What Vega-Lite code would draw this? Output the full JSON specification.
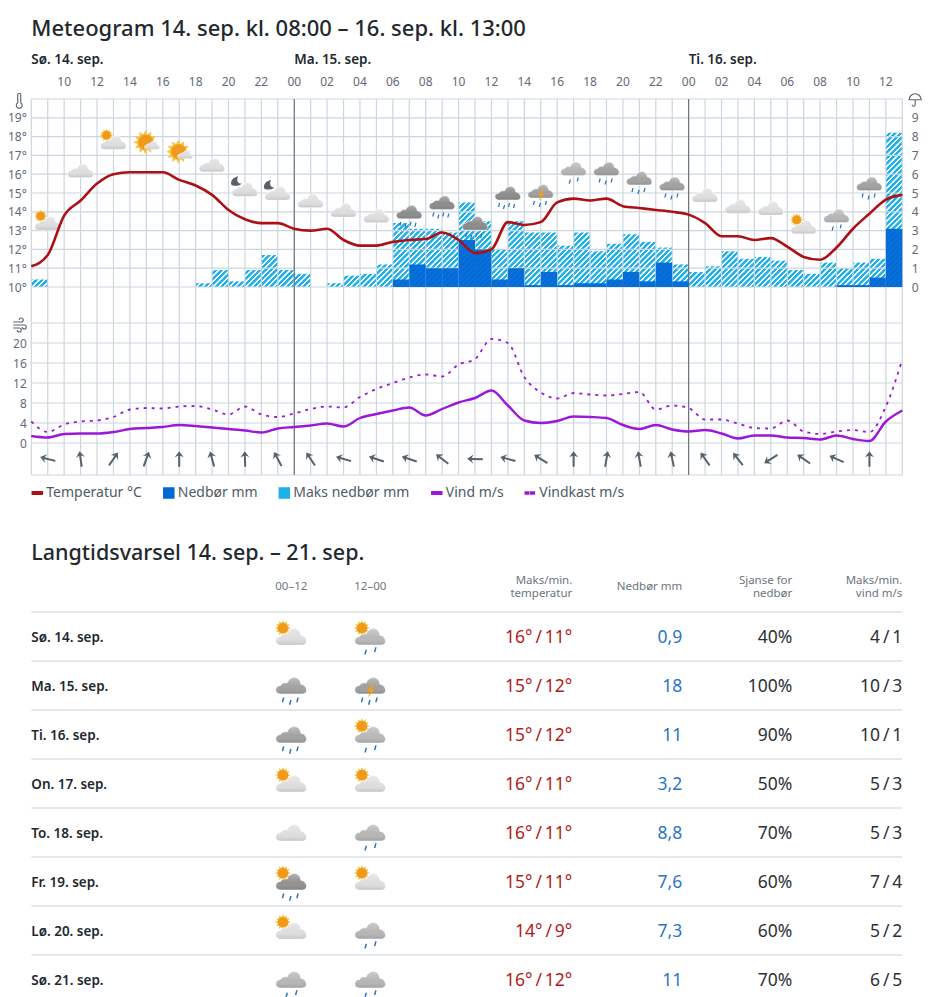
{"$schema":"https://vega.github.io/schema/vega-lite/v6.json","background":"white","padding":{"left":7.3,"top":17,"right":10,"bottom":0},"bounds":"flush","spacing":88,"config":{"font":"Noto Sans","view":{"stroke":null},"axis":{"labelFont":"Noto Sans"}},
"datasets":{
"timer":[
{"t":"2025-09-14T08:00Z","t2":"2025-09-14T09:00Z","maks":0.4,"nedbor":0},{"t":"2025-09-14T09:00Z","t2":"2025-09-14T10:00Z","maks":0,"nedbor":0},{"t":"2025-09-14T10:00Z","t2":"2025-09-14T11:00Z","maks":0,"nedbor":0},{"t":"2025-09-14T11:00Z","t2":"2025-09-14T12:00Z","maks":0,"nedbor":0},{"t":"2025-09-14T12:00Z","t2":"2025-09-14T13:00Z","maks":0,"nedbor":0},{"t":"2025-09-14T13:00Z","t2":"2025-09-14T14:00Z","maks":0,"nedbor":0},{"t":"2025-09-14T14:00Z","t2":"2025-09-14T15:00Z","maks":0,"nedbor":0},{"t":"2025-09-14T15:00Z","t2":"2025-09-14T16:00Z","maks":0,"nedbor":0},{"t":"2025-09-14T16:00Z","t2":"2025-09-14T17:00Z","maks":0,"nedbor":0},{"t":"2025-09-14T17:00Z","t2":"2025-09-14T18:00Z","maks":0,"nedbor":0},
{"t":"2025-09-14T18:00Z","t2":"2025-09-14T19:00Z","maks":0.2,"nedbor":0},{"t":"2025-09-14T19:00Z","t2":"2025-09-14T20:00Z","maks":0.9,"nedbor":0},{"t":"2025-09-14T20:00Z","t2":"2025-09-14T21:00Z","maks":0.3,"nedbor":0},{"t":"2025-09-14T21:00Z","t2":"2025-09-14T22:00Z","maks":0.9,"nedbor":0},{"t":"2025-09-14T22:00Z","t2":"2025-09-14T23:00Z","maks":1.7,"nedbor":0},{"t":"2025-09-14T23:00Z","t2":"2025-09-15T00:00Z","maks":0.9,"nedbor":0},
{"t":"2025-09-15T00:00Z","t2":"2025-09-15T01:00Z","maks":0.7,"nedbor":0},{"t":"2025-09-15T01:00Z","t2":"2025-09-15T02:00Z","maks":0,"nedbor":0},{"t":"2025-09-15T02:00Z","t2":"2025-09-15T03:00Z","maks":0.2,"nedbor":0},{"t":"2025-09-15T03:00Z","t2":"2025-09-15T04:00Z","maks":0.6,"nedbor":0},{"t":"2025-09-15T04:00Z","t2":"2025-09-15T05:00Z","maks":0.7,"nedbor":0},{"t":"2025-09-15T05:00Z","t2":"2025-09-15T06:00Z","maks":1.2,"nedbor":0},{"t":"2025-09-15T06:00Z","t2":"2025-09-15T07:00Z","maks":3.4,"nedbor":0.4},{"t":"2025-09-15T07:00Z","t2":"2025-09-15T08:00Z","maks":3.1,"nedbor":1.2},{"t":"2025-09-15T08:00Z","t2":"2025-09-15T09:00Z","maks":3.1,"nedbor":1.0},{"t":"2025-09-15T09:00Z","t2":"2025-09-15T10:00Z","maks":2.9,"nedbor":1.0},{"t":"2025-09-15T10:00Z","t2":"2025-09-15T11:00Z","maks":4.5,"nedbor":2.5},{"t":"2025-09-15T11:00Z","t2":"2025-09-15T12:00Z","maks":3.5,"nedbor":2.0},
{"t":"2025-09-15T12:00Z","t2":"2025-09-15T13:00Z","maks":2.0,"nedbor":0.4},{"t":"2025-09-15T13:00Z","t2":"2025-09-15T14:00Z","maks":3.5,"nedbor":1.0},{"t":"2025-09-15T14:00Z","t2":"2025-09-15T15:00Z","maks":2.9,"nedbor":0.1},{"t":"2025-09-15T15:00Z","t2":"2025-09-15T16:00Z","maks":2.9,"nedbor":0.8},{"t":"2025-09-15T16:00Z","t2":"2025-09-15T17:00Z","maks":2.2,"nedbor":0.1},{"t":"2025-09-15T17:00Z","t2":"2025-09-15T18:00Z","maks":2.9,"nedbor":0.2},{"t":"2025-09-15T18:00Z","t2":"2025-09-15T19:00Z","maks":1.9,"nedbor":0.2},{"t":"2025-09-15T19:00Z","t2":"2025-09-15T20:00Z","maks":2.3,"nedbor":0.4},{"t":"2025-09-15T20:00Z","t2":"2025-09-15T21:00Z","maks":2.8,"nedbor":0.8},{"t":"2025-09-15T21:00Z","t2":"2025-09-15T22:00Z","maks":2.4,"nedbor":0.3},{"t":"2025-09-15T22:00Z","t2":"2025-09-15T23:00Z","maks":2.1,"nedbor":1.3},{"t":"2025-09-15T23:00Z","t2":"2025-09-16T00:00Z","maks":1.2,"nedbor":0.3},
{"t":"2025-09-16T00:00Z","t2":"2025-09-16T01:00Z","maks":0.8,"nedbor":0},{"t":"2025-09-16T01:00Z","t2":"2025-09-16T02:00Z","maks":1.1,"nedbor":0},{"t":"2025-09-16T02:00Z","t2":"2025-09-16T03:00Z","maks":1.9,"nedbor":0},{"t":"2025-09-16T03:00Z","t2":"2025-09-16T04:00Z","maks":1.5,"nedbor":0},{"t":"2025-09-16T04:00Z","t2":"2025-09-16T05:00Z","maks":1.6,"nedbor":0},{"t":"2025-09-16T05:00Z","t2":"2025-09-16T06:00Z","maks":1.4,"nedbor":0},{"t":"2025-09-16T06:00Z","t2":"2025-09-16T07:00Z","maks":0.9,"nedbor":0},{"t":"2025-09-16T07:00Z","t2":"2025-09-16T08:00Z","maks":0.7,"nedbor":0},{"t":"2025-09-16T08:00Z","t2":"2025-09-16T09:00Z","maks":1.3,"nedbor":0},{"t":"2025-09-16T09:00Z","t2":"2025-09-16T10:00Z","maks":1.0,"nedbor":0.1},{"t":"2025-09-16T10:00Z","t2":"2025-09-16T11:00Z","maks":1.3,"nedbor":0.1},{"t":"2025-09-16T11:00Z","t2":"2025-09-16T12:00Z","maks":1.5,"nedbor":0.5},{"t":"2025-09-16T12:00Z","t2":"2025-09-16T13:00Z","maks":8.2,"nedbor":3.1}],
"kurver":[
{"t":"2025-09-14T08:00Z","temp":11.1,"vind":1.4,"kast":4.3},{"t":"2025-09-14T09:00Z","temp":11.7,"vind":1.1,"kast":2.2},{"t":"2025-09-14T10:00Z","temp":13.8,"vind":1.8,"kast":3.7},{"t":"2025-09-14T11:00Z","temp":14.6,"vind":1.9,"kast":4.3},{"t":"2025-09-14T12:00Z","temp":15.5,"vind":1.9,"kast":4.5},{"t":"2025-09-14T13:00Z","temp":16.0,"vind":2.2,"kast":5.2},{"t":"2025-09-14T14:00Z","temp":16.1,"vind":2.8,"kast":6.7},{"t":"2025-09-14T15:00Z","temp":16.1,"vind":3.0,"kast":7.0},{"t":"2025-09-14T16:00Z","temp":16.1,"vind":3.2,"kast":6.9},{"t":"2025-09-14T17:00Z","temp":15.7,"vind":3.6,"kast":7.3},{"t":"2025-09-14T18:00Z","temp":15.4,"vind":3.4,"kast":7.4},{"t":"2025-09-14T19:00Z","temp":14.9,"vind":3.1,"kast":6.7},{"t":"2025-09-14T20:00Z","temp":14.1,"vind":2.8,"kast":5.7},{"t":"2025-09-14T21:00Z","temp":13.6,"vind":2.5,"kast":7.3},{"t":"2025-09-14T22:00Z","temp":13.4,"vind":2.1,"kast":5.7},{"t":"2025-09-14T23:00Z","temp":13.4,"vind":2.9,"kast":5.2},
{"t":"2025-09-15T00:00Z","temp":13.1,"vind":3.2,"kast":5.9},{"t":"2025-09-15T01:00Z","temp":13.0,"vind":3.5,"kast":6.8},{"t":"2025-09-15T02:00Z","temp":13.1,"vind":3.9,"kast":7.3},{"t":"2025-09-15T03:00Z","temp":12.5,"vind":3.3,"kast":7.1},{"t":"2025-09-15T04:00Z","temp":12.2,"vind":5.0,"kast":9.2},{"t":"2025-09-15T05:00Z","temp":12.2,"vind":5.8,"kast":10.8},{"t":"2025-09-15T06:00Z","temp":12.4,"vind":6.5,"kast":12.0},{"t":"2025-09-15T07:00Z","temp":12.5,"vind":7.1,"kast":13.1},{"t":"2025-09-15T08:00Z","temp":12.55,"vind":5.5,"kast":13.7},{"t":"2025-09-15T09:00Z","temp":12.9,"vind":6.8,"kast":13.3},{"t":"2025-09-15T10:00Z","temp":12.5,"vind":8.1,"kast":15.7},{"t":"2025-09-15T11:00Z","temp":11.8,"vind":9.0,"kast":16.8},{"t":"2025-09-15T12:00Z","temp":12.0,"vind":10.5,"kast":20.8},{"t":"2025-09-15T13:00Z","temp":13.45,"vind":7.5,"kast":20.0},{"t":"2025-09-15T14:00Z","temp":13.3,"vind":4.5,"kast":13.2},{"t":"2025-09-15T15:00Z","temp":13.45,"vind":4.0,"kast":10.1},{"t":"2025-09-15T16:00Z","temp":14.5,"vind":4.4,"kast":8.9},{"t":"2025-09-15T17:00Z","temp":14.7,"vind":5.3,"kast":10.0},{"t":"2025-09-15T18:00Z","temp":14.6,"vind":5.2,"kast":9.7},{"t":"2025-09-15T19:00Z","temp":14.7,"vind":5.0,"kast":9.5},{"t":"2025-09-15T20:00Z","temp":14.3,"vind":3.6,"kast":9.8},{"t":"2025-09-15T21:00Z","temp":14.2,"vind":2.8,"kast":10.2},{"t":"2025-09-15T22:00Z","temp":14.1,"vind":3.6,"kast":6.7},{"t":"2025-09-15T23:00Z","temp":14.0,"vind":2.7,"kast":7.5},
{"t":"2025-09-16T00:00Z","temp":13.85,"vind":2.3,"kast":7.0},{"t":"2025-09-16T01:00Z","temp":13.4,"vind":2.6,"kast":4.7},{"t":"2025-09-16T02:00Z","temp":12.7,"vind":1.9,"kast":4.7},{"t":"2025-09-16T03:00Z","temp":12.7,"vind":0.9,"kast":3.9},{"t":"2025-09-16T04:00Z","temp":12.5,"vind":1.5,"kast":3.0},{"t":"2025-09-16T05:00Z","temp":12.6,"vind":1.5,"kast":2.9},{"t":"2025-09-16T06:00Z","temp":12.15,"vind":1.1,"kast":4.5},{"t":"2025-09-16T07:00Z","temp":11.6,"vind":1.0,"kast":2.3},{"t":"2025-09-16T08:00Z","temp":11.45,"vind":0.7,"kast":1.8},{"t":"2025-09-16T09:00Z","temp":12.1,"vind":1.5,"kast":2.3},{"t":"2025-09-16T10:00Z","temp":13.1,"vind":0.8,"kast":2.6},{"t":"2025-09-16T11:00Z","temp":13.9,"vind":0.4,"kast":2.2},{"t":"2025-09-16T12:00Z","temp":14.65,"vind":4.3,"kast":7.3},{"t":"2025-09-16T13:00Z","temp":14.9,"vind":6.5,"kast":16.7}],
"ikoner":[
{"t":"2025-09-14T09:00Z","niva":13.4,"vaer":"delvis"},{"t":"2025-09-14T11:00Z","niva":16.2,"vaer":"sky"},{"t":"2025-09-14T13:00Z","niva":17.7,"vaer":"delvis"},{"t":"2025-09-14T15:00Z","niva":17.7,"vaer":"sol"},{"t":"2025-09-14T17:00Z","niva":17.2,"vaer":"sol"},{"t":"2025-09-14T19:00Z","niva":16.5,"vaer":"sky"},{"t":"2025-09-14T21:00Z","niva":15.2,"vaer":"natt"},{"t":"2025-09-14T23:00Z","niva":15.0,"vaer":"natt"},
{"t":"2025-09-15T01:00Z","niva":14.6,"vaer":"sky"},{"t":"2025-09-15T03:00Z","niva":14.1,"vaer":"sky"},{"t":"2025-09-15T05:00Z","niva":13.8,"vaer":"sky"},{"t":"2025-09-15T07:00Z","niva":14.0,"vaer":"regn4"},{"t":"2025-09-15T09:00Z","niva":14.5,"vaer":"regn4"},{"t":"2025-09-15T11:00Z","niva":13.4,"vaer":"regn4"},{"t":"2025-09-15T13:00Z","niva":15.0,"vaer":"regn4"},{"t":"2025-09-15T15:00Z","niva":15.1,"vaer":"torden"},{"t":"2025-09-15T17:00Z","niva":16.3,"vaer":"regn2"},{"t":"2025-09-15T19:00Z","niva":16.3,"vaer":"regn3"},{"t":"2025-09-15T21:00Z","niva":15.8,"vaer":"regn3"},{"t":"2025-09-15T23:00Z","niva":15.5,"vaer":"regn3"},
{"t":"2025-09-16T01:00Z","niva":14.9,"vaer":"sky"},{"t":"2025-09-16T03:00Z","niva":14.3,"vaer":"sky"},{"t":"2025-09-16T05:00Z","niva":14.2,"vaer":"sky"},{"t":"2025-09-16T07:00Z","niva":13.2,"vaer":"delvis"},{"t":"2025-09-16T09:00Z","niva":13.8,"vaer":"regn2"},{"t":"2025-09-16T11:00Z","niva":15.5,"vaer":"regn3"}],
"piler":[
{"t":"2025-09-14T09:00Z","retning":284},{"t":"2025-09-14T11:00Z","retning":352},{"t":"2025-09-14T13:00Z","retning":35},{"t":"2025-09-14T15:00Z","retning":20},{"t":"2025-09-14T17:00Z","retning":0},{"t":"2025-09-14T19:00Z","retning":345},{"t":"2025-09-14T21:00Z","retning":358},{"t":"2025-09-14T23:00Z","retning":332},{"t":"2025-09-15T01:00Z","retning":327},{"t":"2025-09-15T03:00Z","retning":286},{"t":"2025-09-15T05:00Z","retning":288},{"t":"2025-09-15T07:00Z","retning":288},{"t":"2025-09-15T09:00Z","retning":308},{"t":"2025-09-15T11:00Z","retning":272},{"t":"2025-09-15T13:00Z","retning":285},{"t":"2025-09-15T15:00Z","retning":302},{"t":"2025-09-15T17:00Z","retning":0},{"t":"2025-09-15T19:00Z","retning":10},{"t":"2025-09-15T21:00Z","retning":350},{"t":"2025-09-15T23:00Z","retning":348},{"t":"2025-09-16T01:00Z","retning":325},{"t":"2025-09-16T03:00Z","retning":322},{"t":"2025-09-16T05:00Z","retning":238},{"t":"2025-09-16T07:00Z","retning":305},{"t":"2025-09-16T09:00Z","retning":294},{"t":"2025-09-16T11:00Z","retning":0}],
"klokke":[
{"t":"2025-09-14T10:00Z","time":"10"},{"t":"2025-09-14T12:00Z","time":"12"},{"t":"2025-09-14T14:00Z","time":"14"},{"t":"2025-09-14T16:00Z","time":"16"},{"t":"2025-09-14T18:00Z","time":"18"},{"t":"2025-09-14T20:00Z","time":"20"},{"t":"2025-09-14T22:00Z","time":"22"},{"t":"2025-09-15T00:00Z","time":"00"},{"t":"2025-09-15T02:00Z","time":"02"},{"t":"2025-09-15T04:00Z","time":"04"},{"t":"2025-09-15T06:00Z","time":"06"},{"t":"2025-09-15T08:00Z","time":"08"},{"t":"2025-09-15T10:00Z","time":"10"},{"t":"2025-09-15T12:00Z","time":"12"},{"t":"2025-09-15T14:00Z","time":"14"},{"t":"2025-09-15T16:00Z","time":"16"},{"t":"2025-09-15T18:00Z","time":"18"},{"t":"2025-09-15T20:00Z","time":"20"},{"t":"2025-09-15T22:00Z","time":"22"},{"t":"2025-09-16T00:00Z","time":"00"},{"t":"2025-09-16T02:00Z","time":"02"},{"t":"2025-09-16T04:00Z","time":"04"},{"t":"2025-09-16T06:00Z","time":"06"},{"t":"2025-09-16T08:00Z","time":"08"},{"t":"2025-09-16T10:00Z","time":"10"},{"t":"2025-09-16T12:00Z","time":"12"}],
"dager":[
{"dag":"Sø. 14. sep.","maksmin":"16°\u2009/\u200911°","nedbor":"0,9","sjanse":"40%","vind":"4\u2009/\u20091"},{"dag":"Ma. 15. sep.","maksmin":"15°\u2009/\u200912°","nedbor":"18","sjanse":"100%","vind":"10\u2009/\u20093"},{"dag":"Ti. 16. sep.","maksmin":"15°\u2009/\u200912°","nedbor":"11","sjanse":"90%","vind":"10\u2009/\u20091"},{"dag":"On. 17. sep.","maksmin":"16°\u2009/\u200911°","nedbor":"3,2","sjanse":"50%","vind":"5\u2009/\u20093"},{"dag":"To. 18. sep.","maksmin":"16°\u2009/\u200911°","nedbor":"8,8","sjanse":"70%","vind":"5\u2009/\u20093"},{"dag":"Fr. 19. sep.","maksmin":"15°\u2009/\u200911°","nedbor":"7,6","sjanse":"60%","vind":"7\u2009/\u20094"},{"dag":"Lø. 20. sep.","maksmin":"14°\u2009/\u20099°","nedbor":"7,3","sjanse":"60%","vind":"5\u2009/\u20092"},{"dag":"Sø. 21. sep.","maksmin":"16°\u2009/\u200912°","nedbor":"11","sjanse":"70%","vind":"6\u2009/\u20095"}],
"dagikoner":[
{"dag":"Sø. 14. sep.","kol":"00–12","vaer":"delvis"},{"dag":"Sø. 14. sep.","kol":"12–00","vaer":"solregn2"},{"dag":"Ma. 15. sep.","kol":"00–12","vaer":"regn3"},{"dag":"Ma. 15. sep.","kol":"12–00","vaer":"torden"},{"dag":"Ti. 16. sep.","kol":"00–12","vaer":"regn3"},{"dag":"Ti. 16. sep.","kol":"12–00","vaer":"solregn2"},{"dag":"On. 17. sep.","kol":"00–12","vaer":"delvis"},{"dag":"On. 17. sep.","kol":"12–00","vaer":"delvis"},{"dag":"To. 18. sep.","kol":"00–12","vaer":"sky"},{"dag":"To. 18. sep.","kol":"12–00","vaer":"regn2"},{"dag":"Fr. 19. sep.","kol":"00–12","vaer":"solregn3"},{"dag":"Fr. 19. sep.","kol":"12–00","vaer":"delvis"},{"dag":"Lø. 20. sep.","kol":"00–12","vaer":"delvis"},{"dag":"Lø. 20. sep.","kol":"12–00","vaer":"regn2"},{"dag":"Sø. 21. sep.","kol":"00–12","vaer":"regn2"},{"dag":"Sø. 21. sep.","kol":"12–00","vaer":"regn2"}]
},
"vconcat":[
{"width":871,"height":376,
"title":{"text":"Meteogram 14. sep. kl. 08:00 – 16. sep. kl. 13:00","anchor":"start","frame":"group","fontSize":22,"fontWeight":500,"font":"Noto Sans","color":"#22282e","offset":12},
"resolve":{"scale":{"y":"independent","shape":"independent"}},
"layer":[
{"data":{"name":"timer"},"mark":{"type":"rect"},"encoding":{"x":{"field":"t","type":"temporal","axis":null,"scale":{"type":"utc","domain":["2025-09-14T08:00Z","2025-09-16T13:00Z"]}},"x2":{"field":"t2"},"y":{"field":"maks","type":"quantitative","scale":{"domain":[-10,10]},"axis":{"orient":"right","values":[0,1,2,3,4,5,6,7,8,9],"title":null,"grid":false,"ticks":false,"domain":false,"labelFontSize":12,"labelColor":"#5f6a75","labelPadding":9,"labelAlign":"left"}},"y2":{"datum":0},"color":{"datum":"Maks nedbør mm","scale":{"domain":["Temperatur °C","Nedbør mm","Maks nedbør mm","Vind m/s","Vindkast m/s"],"range":["#ad1014","#0068d6","#1cb1e8","#9d17d8","#9d17d8"]},"legend":{"title":null,"orient":"none","legendX":-1,"legendY":387,"direction":"horizontal","columns":5,"gridAlign":"none","columnPadding":18.5,"labelFontSize":14,"labelFont":"Noto Sans","labelColor":"#4f5a65","labelOffset":2,"symbolSize":100,"encode":{"symbols":{"update":{"shape":{"signal":"datum.value=='Temperatur °C'?'M-1,-.25H1V.25H-1Z':datum.value=='Vind m/s'?'M-1,-.25H1V.25H-1Z':datum.value=='Vindkast m/s'?'M-1,-.22H-.3V.22H-1ZM.1,-.22H.8V.22H.1Z':datum.value=='Maks nedbør mm'?'M-1,-1H-.5L-1,-.5ZM-.1,-1H.4L-1,.4V-.1ZM.8,-1H1V-.7L-.7,1H-1V.8ZM1,-.3V.2L.2,1H-.3ZM1,.6V1H.6Z':'M-1,-1H1V1H-1Z'"},"fill":{"signal":"datum.value=='Temperatur °C'?'#ad1014':datum.value=='Nedbør mm'?'#0068d6':datum.value=='Maks nedbør mm'?'#1cb1e8':'#9d17d8'"},"stroke":{"value":"transparent"},"opacity":{"value":1}}}}}}}},
{"data":{"name":"timer"},"mark":{"type":"rect","fill":{"gradient":"linear","x1":0,"y1":0,"x2":0.12008,"y2":1.12549,"stops":[
{"offset":0,"color":"#fff0"},{"offset":0.004,"color":"#fff"},{"offset":0.013,"color":"#fff"},{"offset":0.016,"color":"#fff0"},{"offset":0.03125,"color":"#fff0"},{"offset":0.03525,"color":"#fff"},{"offset":0.04425,"color":"#fff"},{"offset":0.04725,"color":"#fff0"},{"offset":0.0625,"color":"#fff0"},{"offset":0.0665,"color":"#fff"},{"offset":0.0755,"color":"#fff"},{"offset":0.0785,"color":"#fff0"},{"offset":0.09375,"color":"#fff0"},{"offset":0.09775,"color":"#fff"},{"offset":0.10675,"color":"#fff"},{"offset":0.10975,"color":"#fff0"},{"offset":0.125,"color":"#fff0"},{"offset":0.129,"color":"#fff"},{"offset":0.138,"color":"#fff"},{"offset":0.141,"color":"#fff0"},{"offset":0.15625,"color":"#fff0"},{"offset":0.16025,"color":"#fff"},{"offset":0.16925,"color":"#fff"},{"offset":0.17225,"color":"#fff0"},{"offset":0.1875,"color":"#fff0"},{"offset":0.1915,"color":"#fff"},{"offset":0.2005,"color":"#fff"},{"offset":0.2035,"color":"#fff0"},{"offset":0.21875,"color":"#fff0"},{"offset":0.22275,"color":"#fff"},{"offset":0.23175,"color":"#fff"},{"offset":0.23475,"color":"#fff0"},{"offset":0.25,"color":"#fff0"},{"offset":0.254,"color":"#fff"},{"offset":0.263,"color":"#fff"},{"offset":0.266,"color":"#fff0"},{"offset":0.28125,"color":"#fff0"},{"offset":0.28525,"color":"#fff"},{"offset":0.29425,"color":"#fff"},{"offset":0.29725,"color":"#fff0"},{"offset":0.3125,"color":"#fff0"},{"offset":0.3165,"color":"#fff"},{"offset":0.3255,"color":"#fff"},{"offset":0.3285,"color":"#fff0"},{"offset":0.34375,"color":"#fff0"},{"offset":0.34775,"color":"#fff"},{"offset":0.35675,"color":"#fff"},{"offset":0.35975,"color":"#fff0"},{"offset":0.375,"color":"#fff0"},{"offset":0.379,"color":"#fff"},{"offset":0.388,"color":"#fff"},{"offset":0.391,"color":"#fff0"},{"offset":0.40625,"color":"#fff0"},{"offset":0.41025,"color":"#fff"},{"offset":0.41925,"color":"#fff"},{"offset":0.42225,"color":"#fff0"},{"offset":0.4375,"color":"#fff0"},{"offset":0.4415,"color":"#fff"},{"offset":0.4505,"color":"#fff"},{"offset":0.4535,"color":"#fff0"},{"offset":0.46875,"color":"#fff0"},{"offset":0.47275,"color":"#fff"},{"offset":0.48175,"color":"#fff"},{"offset":0.48475,"color":"#fff0"},{"offset":0.5,"color":"#fff0"},{"offset":0.504,"color":"#fff"},{"offset":0.513,"color":"#fff"},{"offset":0.516,"color":"#fff0"},{"offset":0.53125,"color":"#fff0"},{"offset":0.53525,"color":"#fff"},{"offset":0.54425,"color":"#fff"},{"offset":0.54725,"color":"#fff0"},{"offset":0.5625,"color":"#fff0"},{"offset":0.5665,"color":"#fff"},{"offset":0.5755,"color":"#fff"},{"offset":0.5785,"color":"#fff0"},{"offset":0.59375,"color":"#fff0"},{"offset":0.59775,"color":"#fff"},{"offset":0.60675,"color":"#fff"},{"offset":0.60975,"color":"#fff0"},{"offset":0.625,"color":"#fff0"},{"offset":0.629,"color":"#fff"},{"offset":0.638,"color":"#fff"},{"offset":0.641,"color":"#fff0"},{"offset":0.65625,"color":"#fff0"},{"offset":0.66025,"color":"#fff"},{"offset":0.66925,"color":"#fff"},{"offset":0.67225,"color":"#fff0"},{"offset":0.6875,"color":"#fff0"},{"offset":0.6915,"color":"#fff"},{"offset":0.7005,"color":"#fff"},{"offset":0.7035,"color":"#fff0"},{"offset":0.71875,"color":"#fff0"},{"offset":0.72275,"color":"#fff"},{"offset":0.73175,"color":"#fff"},{"offset":0.73475,"color":"#fff0"},{"offset":0.75,"color":"#fff0"},{"offset":0.754,"color":"#fff"},{"offset":0.763,"color":"#fff"},{"offset":0.766,"color":"#fff0"},{"offset":0.78125,"color":"#fff0"},{"offset":0.78525,"color":"#fff"},{"offset":0.79425,"color":"#fff"},{"offset":0.79725,"color":"#fff0"},{"offset":0.8125,"color":"#fff0"},{"offset":0.8165,"color":"#fff"},{"offset":0.8255,"color":"#fff"},{"offset":0.8285,"color":"#fff0"},{"offset":0.84375,"color":"#fff0"},{"offset":0.84775,"color":"#fff"},{"offset":0.85675,"color":"#fff"},{"offset":0.85975,"color":"#fff0"},{"offset":0.875,"color":"#fff0"},{"offset":0.879,"color":"#fff"},{"offset":0.888,"color":"#fff"},{"offset":0.891,"color":"#fff0"},{"offset":0.90625,"color":"#fff0"},{"offset":0.91025,"color":"#fff"},{"offset":0.91925,"color":"#fff"},{"offset":0.92225,"color":"#fff0"},{"offset":0.9375,"color":"#fff0"},{"offset":0.9415,"color":"#fff"},{"offset":0.9505,"color":"#fff"},{"offset":0.9535,"color":"#fff0"},{"offset":0.96875,"color":"#fff0"},{"offset":0.97275,"color":"#fff"},{"offset":0.98175,"color":"#fff"},{"offset":0.98475,"color":"#fff0"},{"offset":1,"color":"#fff0"}]}},"encoding":{"x":{"field":"t","type":"temporal","axis":null},"x2":{"field":"t2"},"y":{"datum":8.2,"scale":{"domain":[-10,10]},"axis":null},"y2":{"datum":0}}},
{"data":{"name":"kurver"},"mark":{"type":"rule","color":"#ccd6df","strokeWidth":1.2},"encoding":{"x":{"field":"t","type":"temporal","axis":null}}},
{"data":{"values":[{"verdi":0},{"verdi":10},{"verdi":11},{"verdi":12},{"verdi":13},{"verdi":14},{"verdi":15},{"verdi":16},{"verdi":17},{"verdi":18},{"verdi":19},{"verdi":20}]},"mark":{"type":"rule","color":"#ccd6df","strokeWidth":1.2},"encoding":{"y":{"field":"verdi","type":"quantitative","scale":{"domain":[0,20]},"axis":{"orient":"left","values":[10,11,12,13,14,15,16,17,18,19],"title":null,"grid":false,"ticks":false,"domain":false,"labelFontSize":12,"labelColor":"#5f6a75","labelPadding":5,"labelExpr":"datum.value+'°'"}}}},
{"data":{"values":[{"verdi":0},{"verdi":4},{"verdi":8},{"verdi":12},{"verdi":16},{"verdi":20},{"verdi":24}]},"mark":{"type":"rule","color":"#ccd6df","strokeWidth":1.2},"encoding":{"y":{"field":"verdi","type":"quantitative","scale":{"domain":[-6.4,68.8]},"axis":{"orient":"left","values":[0,4,8,12,16,20],"title":null,"grid":false,"ticks":false,"domain":false,"labelFontSize":12,"labelColor":"#5f6a75","labelPadding":5}}}},
{"data":{"values":[{"t":"2025-09-15T00:00Z"},{"t":"2025-09-16T00:00Z"}]},"mark":{"type":"rule","color":"#59626b","strokeWidth":1},"encoding":{"x":{"field":"t","type":"temporal","axis":null}}},
{"data":{"name":"timer"},"mark":{"type":"rect","opacity":0.95},"encoding":{"x":{"field":"t","type":"temporal","axis":null},"x2":{"field":"t2"},"y":{"field":"nedbor","type":"quantitative","scale":{"domain":[-10,10]},"axis":null},"y2":{"datum":0},"color":{"datum":"Nedbør mm"}}},
{"data":{"name":"klokke"},"mark":{"type":"text","align":"center","baseline":"middle","fontSize":12,"color":"#5f6a75"},"encoding":{"x":{"field":"t","type":"temporal","axis":null},"y":{"datum":20.88,"scale":{"domain":[0,20]},"axis":null},"text":{"field":"time"}}},
{"data":{"name":"ikoner"},"mark":{"type":"point","filled":true,"size":4,"opacity":1,"strokeWidth":0,"fill":"#f6c343"},"encoding":{"x":{"field":"t","type":"temporal","axis":null},"y":{"field":"niva","type":"quantitative","scale":{"domain":[0,20]},"axis":null},"shape":{"field":"vaer","legend":null,"scale":{"domain":["delvis","sol","sky","natt","regn2","regn3","regn4","torden","solregn2","solregn3"],"range":["M-.4,-7l-2.4,1.2 1.5,2.1 -2.6,-.2 .2,2.6 -2.1,-1.5 -1.2,2.4 -1.2,-2.4 -2.1,1.5 .2,-2.6 -2.6,.2 1.5,-2.1 -2.4,-1.2 2.4,-1.2 -1.5,-2.1 2.6,.2 -.2,-2.6 2.1,1.5 1.2,-2.4 1.2,2.4 2.1,-1.5 -.2,2.6 2.6,-.2 -1.5,2.1z","M11,0l-4.3,2.1 2.7,3.9 -4.7,-.3 .3,4.7 -3.9,-2.7 -2.1,4.3 -2.1,-4.3 -3.9,2.7 .3,-4.7 -4.7,.3 2.7,-3.9 -4.3,-2.1 4.3,-2.1 -2.7,-3.9 4.7,.3 -.3,-4.7 3.9,2.7 2.1,-4.3 2.1,4.3 3.9,-2.7 -.3,4.7 4.7,-.3 -2.7,3.9z","M0,0","M0,0","M0,0","M0,0","M0,0","M0,0","M-.4,-7l-2.4,1.2 1.5,2.1 -2.6,-.2 .2,2.6 -2.1,-1.5 -1.2,2.4 -1.2,-2.4 -2.1,1.5 .2,-2.6 -2.6,.2 1.5,-2.1 -2.4,-1.2 2.4,-1.2 -1.5,-2.1 2.6,.2 -.2,-2.6 2.1,1.5 1.2,-2.4 1.2,2.4 2.1,-1.5 -.2,2.6 2.6,-.2 -1.5,2.1z","M-.4,-7l-2.4,1.2 1.5,2.1 -2.6,-.2 .2,2.6 -2.1,-1.5 -1.2,2.4 -1.2,-2.4 -2.1,1.5 .2,-2.6 -2.6,.2 1.5,-2.1 -2.4,-1.2 2.4,-1.2 -1.5,-2.1 2.6,.2 -.2,-2.6 2.1,1.5 1.2,-2.4 1.2,2.4 2.1,-1.5 -.2,2.6 2.6,-.2 -1.5,2.1z"]}}}},
{"data":{"name":"ikoner"},"mark":{"type":"point","filled":true,"size":4,"opacity":1,"strokeWidth":0,"fill":"#ef9a1c"},"encoding":{"x":{"field":"t","type":"temporal","axis":null},"y":{"field":"niva","type":"quantitative","scale":{"domain":[0,20]},"axis":null},"shape":{"field":"vaer","legend":null,"scale":{"domain":["delvis","sol","sky","natt","regn2","regn3","regn4","torden","solregn2","solregn3"],"range":["M-11.3,-7a4.3,4.3 0 1,0 8.6,0a4.3,4.3 0 1,0 -8.6,0z","M-8,0a7.5,7.5 0 1,0 15,0a7.5,7.5 0 1,0 -15,0z","M0,0","M0,0","M0,0","M0,0","M0,0","M0,0","M-11.3,-7a4.3,4.3 0 1,0 8.6,0a4.3,4.3 0 1,0 -8.6,0z","M-11.3,-7a4.3,4.3 0 1,0 8.6,0a4.3,4.3 0 1,0 -8.6,0z"]}}}},
{"data":{"name":"ikoner"},"mark":{"type":"point","filled":true,"size":4,"opacity":1,"strokeWidth":0,"fill":"#5a6068"},"encoding":{"x":{"field":"t","type":"temporal","axis":null},"y":{"field":"niva","type":"quantitative","scale":{"domain":[0,20]},"axis":null},"shape":{"field":"vaer","legend":null,"scale":{"domain":["delvis","sol","sky","natt","regn2","regn3","regn4","torden","solregn2","solregn3"],"range":["M0,0","M0,0","M0,0","M-6.7,-13C-14,-12 -15,-5 -13,-4C-10,-3 -5,-3 -3.3,-5.7C-7,-5 -9,-9 -6.7,-13z","M0,0","M0,0","M0,0","M0,0","M0,0","M0,0"]}}}},
{"data":{"name":"ikoner"},"mark":{"type":"point","filled":true,"size":4,"opacity":1,"strokeWidth":0.6,"stroke":"#fff"},"encoding":{"x":{"field":"t","type":"temporal","axis":null},"y":{"field":"niva","type":"quantitative","scale":{"domain":[0,20]},"axis":null},"fill":{"field":"vaer","legend":null,"scale":{"domain":["delvis","sol","sky","natt","regn2","regn3","regn4","torden","solregn2","solregn3"],"range":["#dedede","#dedede","#dedede","#dedede","#b6b6b6","#a2a2a2","#8c8c8c","#a0a0a0","#b8b8b8","#929292"]}},"shape":{"field":"vaer","legend":null,"scale":{"domain":["delvis","sol","sky","natt","regn2","regn3","regn4","torden","solregn2","solregn3"],"range":["M-9,7c-5,0 -5.5,-6.5 0,-7c1.5,-2.5 4,-2.5 5.5,-2c2,-6 10.5,-6.5 11.5,1c5,.5 7,8 1,8z","M.6,6.9c-3,0 -3.3,-3.9 0,-4.2c.9,-1.5 2.4,-1.5 3.3,-1.2c1.2,-3.6 6.3,-3.9 6.9,.6c3,.3 4.2,4.8 .6,4.8z","M-9,7c-5,0 -5.5,-6.5 0,-7c1.5,-2.5 4,-2.5 5.5,-2c2,-6 10.5,-6.5 11.5,1c5,.5 7,8 1,8z","M-9,7c-5,0 -5.5,-6.5 0,-7c1.5,-2.5 4,-2.5 5.5,-2c2,-6 10.5,-6.5 11.5,1c5,.5 7,8 1,8z","M-9,7c-5,0 -5.5,-6.5 0,-7c1.5,-2.5 4,-2.5 5.5,-2c2,-6 10.5,-6.5 11.5,1c5,.5 7,8 1,8z","M-9,7c-5,0 -5.5,-6.5 0,-7c1.5,-2.5 4,-2.5 5.5,-2c2,-6 10.5,-6.5 11.5,1c5,.5 7,8 1,8z","M-9,7c-5,0 -5.5,-6.5 0,-7c1.5,-2.5 4,-2.5 5.5,-2c2,-6 10.5,-6.5 11.5,1c5,.5 7,8 1,8z","M-9,7c-5,0 -5.5,-6.5 0,-7c1.5,-2.5 4,-2.5 5.5,-2c2,-6 10.5,-6.5 11.5,1c5,.5 7,8 1,8z","M-9,7c-5,0 -5.5,-6.5 0,-7c1.5,-2.5 4,-2.5 5.5,-2c2,-6 10.5,-6.5 11.5,1c5,.5 7,8 1,8z","M-9,7c-5,0 -5.5,-6.5 0,-7c1.5,-2.5 4,-2.5 5.5,-2c2,-6 10.5,-6.5 11.5,1c5,.5 7,8 1,8z"]}}}},
{"data":{"name":"ikoner"},"mark":{"type":"point","filled":true,"size":4,"opacity":1,"strokeWidth":0,"fill":{"gradient":"linear","x1":0,"y1":0,"x2":0,"y2":1,"stops":[{"offset":0,"color":"rgba(255,255,255,0.28)"},{"offset":0.55,"color":"rgba(255,255,255,0)"},{"offset":1,"color":"rgba(0,0,0,0.12)"}]}},"encoding":{"x":{"field":"t","type":"temporal","axis":null},"y":{"field":"niva","type":"quantitative","scale":{"domain":[0,20]},"axis":null},"shape":{"field":"vaer","legend":null,"scale":{"domain":["delvis","sol","sky","natt","regn2","regn3","regn4","torden","solregn2","solregn3"],"range":["M-9,7c-5,0 -5.5,-6.5 0,-7c1.5,-2.5 4,-2.5 5.5,-2c2,-6 10.5,-6.5 11.5,1c5,.5 7,8 1,8z","M.6,6.9c-3,0 -3.3,-3.9 0,-4.2c.9,-1.5 2.4,-1.5 3.3,-1.2c1.2,-3.6 6.3,-3.9 6.9,.6c3,.3 4.2,4.8 .6,4.8z","M-9,7c-5,0 -5.5,-6.5 0,-7c1.5,-2.5 4,-2.5 5.5,-2c2,-6 10.5,-6.5 11.5,1c5,.5 7,8 1,8z","M-9,7c-5,0 -5.5,-6.5 0,-7c1.5,-2.5 4,-2.5 5.5,-2c2,-6 10.5,-6.5 11.5,1c5,.5 7,8 1,8z","M-9,7c-5,0 -5.5,-6.5 0,-7c1.5,-2.5 4,-2.5 5.5,-2c2,-6 10.5,-6.5 11.5,1c5,.5 7,8 1,8z","M-9,7c-5,0 -5.5,-6.5 0,-7c1.5,-2.5 4,-2.5 5.5,-2c2,-6 10.5,-6.5 11.5,1c5,.5 7,8 1,8z","M-9,7c-5,0 -5.5,-6.5 0,-7c1.5,-2.5 4,-2.5 5.5,-2c2,-6 10.5,-6.5 11.5,1c5,.5 7,8 1,8z","M-9,7c-5,0 -5.5,-6.5 0,-7c1.5,-2.5 4,-2.5 5.5,-2c2,-6 10.5,-6.5 11.5,1c5,.5 7,8 1,8z","M-9,7c-5,0 -5.5,-6.5 0,-7c1.5,-2.5 4,-2.5 5.5,-2c2,-6 10.5,-6.5 11.5,1c5,.5 7,8 1,8z","M-9,7c-5,0 -5.5,-6.5 0,-7c1.5,-2.5 4,-2.5 5.5,-2c2,-6 10.5,-6.5 11.5,1c5,.5 7,8 1,8z"]}}}},
{"data":{"name":"ikoner"},"mark":{"type":"point","filled":true,"size":4,"opacity":1,"strokeWidth":0,"fill":"#2f75b8"},"encoding":{"x":{"field":"t","type":"temporal","axis":null},"y":{"field":"niva","type":"quantitative","scale":{"domain":[0,20]},"axis":null},"shape":{"field":"vaer","legend":null,"scale":{"domain":["delvis","sol","sky","natt","regn2","regn3","regn4","torden","solregn2","solregn3"],"range":["M0,0","M0,0","M0,0","M0,0","M-5,15l1,-4h1.3l-1,4zM3,13l1,-4h1.3l-1,4z","M-8,14l1,-4h1.3l-1,4zM-2,16l1,-4h1.3l-1,4zM4,14l1,-4h1.3l-1,4z","M-10,14l1,-4h1.3l-1,4zM-5,16l1,-4h1.3l-1,4zM0,14l1,-4h1.3l-1,4zM5,15l1,-4h1.3l-1,4z","M-8,14l1,-4h1.3l-1,4zM-2,16l1,-4h1.3l-1,4zM4,14l1,-4h1.3l-1,4z","M-5,15l1,-4h1.3l-1,4zM3,13l1,-4h1.3l-1,4z","M-8,14l1,-4h1.3l-1,4zM-2,16l1,-4h1.3l-1,4zM4,14l1,-4h1.3l-1,4z"]}}}},
{"data":{"name":"ikoner"},"mark":{"type":"point","filled":true,"size":4,"opacity":1,"strokeWidth":0,"fill":"#f0a020"},"encoding":{"x":{"field":"t","type":"temporal","axis":null},"y":{"field":"niva","type":"quantitative","scale":{"domain":[0,20]},"axis":null},"shape":{"field":"vaer","legend":null,"scale":{"domain":["delvis","sol","sky","natt","regn2","regn3","regn4","torden","solregn2","solregn3"],"range":["M0,0","M0,0","M0,0","M0,0","M0,0","M0,0","M0,0","M2,-2l-5,7h3l-2,5l6,-7h-3l2,-5z","M0,0","M0,0"]}}}},
{"data":{"name":"kurver"},"mark":{"type":"line","interpolate":"monotone","strokeWidth":2.6},"encoding":{"x":{"field":"t","type":"temporal","axis":null},"y":{"field":"temp","type":"quantitative","scale":{"domain":[0,20]},"axis":null},"color":{"datum":"Temperatur °C"}}},
{"data":{"name":"kurver"},"mark":{"type":"line","interpolate":"monotone","strokeWidth":2.4},"encoding":{"x":{"field":"t","type":"temporal","axis":null},"y":{"field":"vind","type":"quantitative","scale":{"domain":[-6.4,68.8]},"axis":null},"color":{"datum":"Vind m/s"}}},
{"data":{"name":"kurver"},"mark":{"type":"line","interpolate":"monotone","strokeWidth":1.8,"strokeDash":[3,5]},"encoding":{"x":{"field":"t","type":"temporal","axis":null},"y":{"field":"kast","type":"quantitative","scale":{"domain":[-6.4,68.8]},"axis":null},"color":{"datum":"Vindkast m/s"}}},
{"data":{"name":"piler"},"mark":{"type":"point","filled":true,"size":5,"opacity":1,"strokeWidth":0,"fill":"#59626b","shape":"M-.9,7L-.9,-3L-4,-1.5L0,-7L4,-1.5L.9,-3L.9,7z"},"encoding":{"x":{"field":"t","type":"temporal","axis":null},"y":{"datum":-3.2,"scale":{"domain":[-6.4,68.8]},"axis":null},"angle":{"field":"retning","type":"quantitative","scale":null}}},
{"data":{"values":[{"t":"2025-09-14T08:00Z","tekst":"Sø. 14. sep."},{"t":"2025-09-15T00:00Z","tekst":"Ma. 15. sep."},{"t":"2025-09-16T00:00Z","tekst":"Ti. 16. sep."}]},"mark":{"type":"text","align":"left","baseline":"middle","fontSize":13.5,"fontWeight":600,"color":"#22282e"},"encoding":{"x":{"field":"t","type":"temporal","axis":null},"y":{"datum":22.1,"scale":{"domain":[0,20]},"axis":null},"text":{"field":"tekst"}}},
{"data":{"values":[{"t":"2025-09-14T07:16Z","niva":19.96,"ikon":"temperatur"},{"t":"2025-09-16T13:47Z","niva":19.96,"ikon":"nedbor"},{"t":"2025-09-14T07:16Z","niva":7.98,"ikon":"vind"}]},"mark":{"type":"point","filled":false,"size":4,"opacity":1,"strokeWidth":1.1,"stroke":"#59626b"},"encoding":{"x":{"field":"t","type":"temporal","axis":null},"y":{"field":"niva","type":"quantitative","scale":{"domain":[0,20]},"axis":null},"shape":{"field":"ikon","legend":null,"scale":{"domain":["temperatur","nedbor","vind"],"range":["M-1.5,3V-5a1.5,1.5 0 0,1 3,0V3a3,3 0 1,1 -3,0z","M-6,0a6,6 0 0,1 12,0zM0,0V5a1.5,1.5 0 0,1 -3,0","M-6,-3H2a2,2 0 1,0 -2,-2M-6,0H5a2,2 0 1,1 -2,2M-6,3H0a2,2 0 1,1 -2,2"]}}}}
]},
{"width":871,"height":434,
"title":{"text":"Langtidsvarsel 14. sep. – 21. sep.","anchor":"start","frame":"group","fontSize":21.5,"fontWeight":500,"font":"Noto Sans","color":"#22282e","offset":-2},
"resolve":{"scale":{"x":"independent","shape":"independent"}},
"layer":[
{"data":{"name":"dager"},"mark":{"type":"rule","color":"#c8d2dc","strokeWidth":1.2},"encoding":{"y":{"field":"dag","type":"nominal","bandPosition":0,"axis":null,"sort":null,"scale":{"type":"band","domain":["kolonner","Sø. 14. sep.","Ma. 15. sep.","Ti. 16. sep.","On. 17. sep.","To. 18. sep.","Fr. 19. sep.","Lø. 20. sep.","Sø. 21. sep."],"range":[0,441],"paddingInner":0,"paddingOuter":0}}}},
{"data":{"values":[{"kol":"00–12"},{"kol":"12–00"}]},"mark":{"type":"text","align":"center","baseline":"middle","fontSize":11.5,"color":"#6b7580"},"encoding":{"x":{"field":"kol","type":"nominal","axis":null,"scale":{"type":"point","padding":0,"domain":["00–12","12–00"],"range":[260,339]}},"y":{"datum":"kolonner","type":"nominal","axis":null},"text":{"field":"kol"}}},
{"data":{"values":[{"kol":"nedbor","tekst":"Nedbør mm"}]},"mark":{"type":"text","align":"right","baseline":"middle","fontSize":11.5,"color":"#6b7580"},"encoding":{"x":{"field":"kol","type":"nominal","axis":null,"scale":{"type":"point","padding":0,"domain":["maksmin","nedbor","sjanse","vind"],"range":[541,871]}},"y":{"datum":"kolonner","type":"nominal","axis":null},"text":{"field":"tekst"}}},
{"data":{"values":[{"kol":"maksmin","tekst":"Maks/min.\ntemperatur"},{"kol":"sjanse","tekst":"Sjanse for\nnedbør"},{"kol":"vind","tekst":"Maks/min.\nvind m/s"}]},"mark":{"type":"text","align":"right","baseline":"middle","dy":-6.5,"fontSize":11.5,"color":"#6b7580","lineBreak":"\n","lineHeight":13},"encoding":{"x":{"field":"kol","type":"nominal","axis":null,"scale":{"type":"point","padding":0,"domain":["maksmin","nedbor","sjanse","vind"],"range":[541,871]}},"y":{"datum":"kolonner","type":"nominal","axis":null},"text":{"field":"tekst"}}},
{"data":{"name":"dager"},"mark":{"type":"text","align":"left","baseline":"middle","dy":1.5,"fontSize":13.5,"fontWeight":600,"color":"#22282e"},"encoding":{"x":{"datum":"dag","type":"nominal","axis":null,"scale":{"type":"point","padding":0,"domain":["dag"],"range":[0,0]}},"y":{"field":"dag","type":"nominal","axis":null},"text":{"field":"dag"}}},
{"data":{"name":"dager"},"mark":{"type":"text","align":"right","baseline":"middle","dy":1.5,"fontSize":17.5,"color":"#b01c1c"},"encoding":{"x":{"datum":"maksmin","type":"nominal","axis":null,"scale":{"type":"point","padding":0,"domain":["maksmin","nedbor","sjanse","vind"],"range":[541,871]}},"y":{"field":"dag","type":"nominal","axis":null},"text":{"field":"maksmin"}}},
{"data":{"name":"dager"},"mark":{"type":"text","align":"right","baseline":"middle","dy":1.5,"fontSize":17.5,"color":"#2a76c6"},"encoding":{"x":{"datum":"nedbor","type":"nominal","axis":null,"scale":{"type":"point","padding":0,"domain":["maksmin","nedbor","sjanse","vind"],"range":[541,871]}},"y":{"field":"dag","type":"nominal","axis":null},"text":{"field":"nedbor"}}},
{"data":{"name":"dager"},"mark":{"type":"text","align":"right","baseline":"middle","dy":1.5,"fontSize":17.5,"color":"#2b3138"},"encoding":{"x":{"datum":"sjanse","type":"nominal","axis":null,"scale":{"type":"point","padding":0,"domain":["maksmin","nedbor","sjanse","vind"],"range":[541,871]}},"y":{"field":"dag","type":"nominal","axis":null},"text":{"field":"sjanse"}}},
{"data":{"name":"dager"},"mark":{"type":"text","align":"right","baseline":"middle","dy":1.5,"fontSize":17.5,"color":"#2b3138"},"encoding":{"x":{"datum":"vind","type":"nominal","axis":null,"scale":{"type":"point","padding":0,"domain":["maksmin","nedbor","sjanse","vind"],"range":[541,871]}},"y":{"field":"dag","type":"nominal","axis":null},"text":{"field":"vind"}}},
{"data":{"name":"dagikoner"},"mark":{"type":"point","filled":true,"size":5.76,"opacity":1,"strokeWidth":0,"fill":"#f6c343"},"encoding":{"x":{"field":"kol","type":"nominal","axis":null,"scale":{"type":"point","padding":0,"domain":["00–12","12–00"],"range":[260,339]}},"y":{"field":"dag","type":"nominal","axis":null},"shape":{"field":"vaer","legend":null,"scale":{"domain":["delvis","sol","sky","natt","regn2","regn3","regn4","torden","solregn2","solregn3"],"range":["M-.4,-7l-2.4,1.2 1.5,2.1 -2.6,-.2 .2,2.6 -2.1,-1.5 -1.2,2.4 -1.2,-2.4 -2.1,1.5 .2,-2.6 -2.6,.2 1.5,-2.1 -2.4,-1.2 2.4,-1.2 -1.5,-2.1 2.6,.2 -.2,-2.6 2.1,1.5 1.2,-2.4 1.2,2.4 2.1,-1.5 -.2,2.6 2.6,-.2 -1.5,2.1z","M0,0","M0,0","M0,0","M0,0","M0,0","M0,0","M0,0","M-.4,-7l-2.4,1.2 1.5,2.1 -2.6,-.2 .2,2.6 -2.1,-1.5 -1.2,2.4 -1.2,-2.4 -2.1,1.5 .2,-2.6 -2.6,.2 1.5,-2.1 -2.4,-1.2 2.4,-1.2 -1.5,-2.1 2.6,.2 -.2,-2.6 2.1,1.5 1.2,-2.4 1.2,2.4 2.1,-1.5 -.2,2.6 2.6,-.2 -1.5,2.1z","M-.4,-7l-2.4,1.2 1.5,2.1 -2.6,-.2 .2,2.6 -2.1,-1.5 -1.2,2.4 -1.2,-2.4 -2.1,1.5 .2,-2.6 -2.6,.2 1.5,-2.1 -2.4,-1.2 2.4,-1.2 -1.5,-2.1 2.6,.2 -.2,-2.6 2.1,1.5 1.2,-2.4 1.2,2.4 2.1,-1.5 -.2,2.6 2.6,-.2 -1.5,2.1z"]}}}},
{"data":{"name":"dagikoner"},"mark":{"type":"point","filled":true,"size":5.76,"opacity":1,"strokeWidth":0,"fill":"#ef9a1c"},"encoding":{"x":{"field":"kol","type":"nominal","axis":null,"scale":{"type":"point","padding":0,"domain":["00–12","12–00"],"range":[260,339]}},"y":{"field":"dag","type":"nominal","axis":null},"shape":{"field":"vaer","legend":null,"scale":{"domain":["delvis","sol","sky","natt","regn2","regn3","regn4","torden","solregn2","solregn3"],"range":["M-11.3,-7a4.3,4.3 0 1,0 8.6,0a4.3,4.3 0 1,0 -8.6,0z","M0,0","M0,0","M0,0","M0,0","M0,0","M0,0","M0,0","M-11.3,-7a4.3,4.3 0 1,0 8.6,0a4.3,4.3 0 1,0 -8.6,0z","M-11.3,-7a4.3,4.3 0 1,0 8.6,0a4.3,4.3 0 1,0 -8.6,0z"]}}}},
{"data":{"name":"dagikoner"},"mark":{"type":"point","filled":true,"size":5.76,"opacity":1,"strokeWidth":0.6,"stroke":"#fff","shape":"M-9,7c-5,0 -5.5,-6.5 0,-7c1.5,-2.5 4,-2.5 5.5,-2c2,-6 10.5,-6.5 11.5,1c5,.5 7,8 1,8z"},"encoding":{"x":{"field":"kol","type":"nominal","axis":null,"scale":{"type":"point","padding":0,"domain":["00–12","12–00"],"range":[260,339]}},"y":{"field":"dag","type":"nominal","axis":null},"fill":{"field":"vaer","legend":null,"scale":{"domain":["delvis","sol","sky","natt","regn2","regn3","regn4","torden","solregn2","solregn3"],"range":["#dedede","#dedede","#dedede","#dedede","#b6b6b6","#a2a2a2","#8c8c8c","#a0a0a0","#b8b8b8","#929292"]}}}},
{"data":{"name":"dagikoner"},"mark":{"type":"point","filled":true,"size":5.76,"opacity":1,"strokeWidth":0,"shape":"M-9,7c-5,0 -5.5,-6.5 0,-7c1.5,-2.5 4,-2.5 5.5,-2c2,-6 10.5,-6.5 11.5,1c5,.5 7,8 1,8z","fill":{"gradient":"linear","x1":0,"y1":0,"x2":0,"y2":1,"stops":[{"offset":0,"color":"rgba(255,255,255,0.28)"},{"offset":0.55,"color":"rgba(255,255,255,0)"},{"offset":1,"color":"rgba(0,0,0,0.12)"}]}},"encoding":{"x":{"field":"kol","type":"nominal","axis":null,"scale":{"type":"point","padding":0,"domain":["00–12","12–00"],"range":[260,339]}},"y":{"field":"dag","type":"nominal","axis":null}}},
{"data":{"name":"dagikoner"},"mark":{"type":"point","filled":true,"size":5.76,"opacity":1,"strokeWidth":0,"fill":"#2f75b8"},"encoding":{"x":{"field":"kol","type":"nominal","axis":null,"scale":{"type":"point","padding":0,"domain":["00–12","12–00"],"range":[260,339]}},"y":{"field":"dag","type":"nominal","axis":null},"shape":{"field":"vaer","legend":null,"scale":{"domain":["delvis","sol","sky","natt","regn2","regn3","regn4","torden","solregn2","solregn3"],"range":["M0,0","M0,0","M0,0","M0,0","M-5,15l1,-4h1.3l-1,4zM3,13l1,-4h1.3l-1,4z","M-8,14l1,-4h1.3l-1,4zM-2,16l1,-4h1.3l-1,4zM4,14l1,-4h1.3l-1,4z","M-10,14l1,-4h1.3l-1,4zM-5,16l1,-4h1.3l-1,4zM0,14l1,-4h1.3l-1,4zM5,15l1,-4h1.3l-1,4z","M-8,14l1,-4h1.3l-1,4zM-2,16l1,-4h1.3l-1,4zM4,14l1,-4h1.3l-1,4z","M-5,15l1,-4h1.3l-1,4zM3,13l1,-4h1.3l-1,4z","M-8,14l1,-4h1.3l-1,4zM-2,16l1,-4h1.3l-1,4zM4,14l1,-4h1.3l-1,4z"]}}}},
{"data":{"name":"dagikoner"},"mark":{"type":"point","filled":true,"size":5.76,"opacity":1,"strokeWidth":0,"fill":"#f0a020"},"encoding":{"x":{"field":"kol","type":"nominal","axis":null,"scale":{"type":"point","padding":0,"domain":["00–12","12–00"],"range":[260,339]}},"y":{"field":"dag","type":"nominal","axis":null},"shape":{"field":"vaer","legend":null,"scale":{"domain":["delvis","sol","sky","natt","regn2","regn3","regn4","torden","solregn2","solregn3"],"range":["M0,0","M0,0","M0,0","M0,0","M0,0","M0,0","M0,0","M2,-2l-5,7h3l-2,5l6,-7h-3l2,-5z","M0,0","M0,0"]}}}}
]}
]}
